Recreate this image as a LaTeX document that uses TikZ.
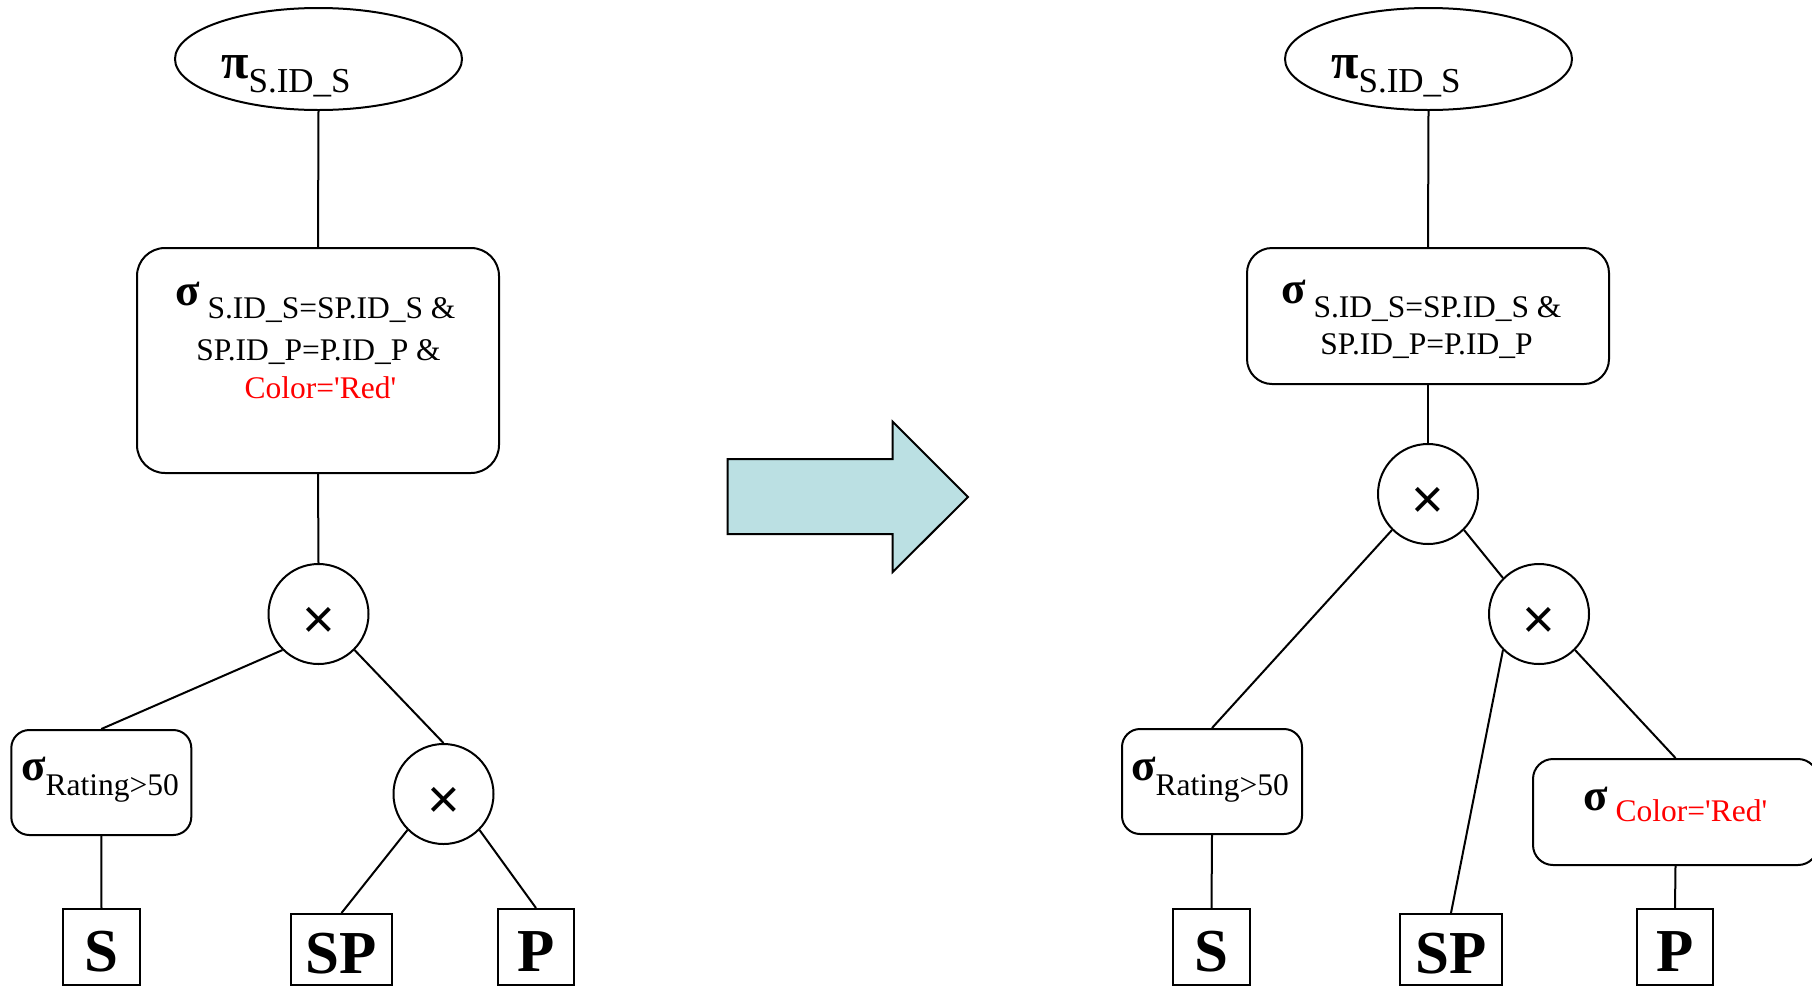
\documentclass[tikz,border=0pt]{standalone}
\usepackage{fontspec}
\setmainfont{Liberation Serif}
\newfontfamily\crossface{Liberation Sans}
\usetikzlibrary{shapes.geometric}

% operator symbols
\newcommand\sigmark{{\fontsize{45}{45}\selectfont\bfseries σ}}
\newcommand\pimark{{\fontsize{50}{50}\selectfont\bfseries π}}
\newcommand\sq{\textquotesingle}

\definecolor{arrowfill}{RGB}{187,224,227}

\tikzset{
  edge/.style={line width=2pt},
  proj/.style={draw, ellipse, line width=2pt, inner sep=0pt},
  sel/.style={draw, rectangle, line width=2pt, inner sep=0pt},
  prod/.style={draw, circle, line width=2pt, minimum size=100pt, inner sep=0pt,
    text height=48pt, text depth=0pt, font=\crossface\fontsize{56}{56}\selectfont},
  rel/.style={draw, rectangle, line width=2pt, inner sep=0pt, text height=48pt,
    text depth=0pt, font=\fontsize{61}{61}\selectfont\bfseries},
  txt/.style={inner sep=0pt},
}

\begin{document}
\begin{tikzpicture}[x=1pt, y=-1pt, font=\fontsize{31.5}{36}\selectfont]
\useasboundingbox (0,0) rectangle (1812,986);
\clip (0,0) rectangle (1812,986);

% ---------------- original query tree ----------------
\node[proj, minimum width=287pt, minimum height=102pt] (Lpi) at (318.5,59) {};
\node[txt, anchor=base west] (Lpitxt) at (221,78)
  {\pimark\raisebox{-14pt}{\fontsize{35}{35}\selectfont S.ID\_S}};

\node[sel, rounded corners=28pt, minimum width=362pt, minimum height=225pt] (Lsel) at (318,360.5) {};
\node[txt, anchor=base west] (Lsel1) at (175,318) {\raisebox{13pt}{\sigmark} S.ID\_S=SP.ID\_S \&};
\node[txt, anchor=base] (Lsel2) at (318.5,360) {SP.ID\_P=P.ID\_P \&};
\node[txt, anchor=base, text=red] (Lsel3) at (320.5,398) {Color=\sq Red\sq};

\node[prod] (Lx1) at (318.5,614) {×};
\node[prod] (Lx2) at (443.5,794) {×};

\node[sel, rounded corners=18pt, minimum width=180pt, minimum height=105pt] (Lrat) at (101.3,782.5) {};
\node[txt, anchor=base west] (Lrattxt) at (21,795) {\raisebox{15pt}{\sigmark}Rating>50};

\node[rel, minimum width=77pt, minimum height=76pt] (LS) at (101.5,947) {S};
\node[rel, minimum width=101pt, minimum height=71pt] (LSP) at (341.5,949.5) {SP};
\node[rel, minimum width=76pt, minimum height=76pt] (LP) at (536,947) {P};

\draw[edge] (Lpi.south) -- (Lsel.north);
\draw[edge] (Lsel.south) -- (Lx1.north);
\draw[edge] (Lx1.225) -- (Lrat.north);
\draw[edge] (Lx1.315) -- (Lx2.north);
\draw[edge] (Lrat.south) -- (LS.north);
\draw[edge] (Lx2.225) -- (LSP.north);
\draw[edge] (Lx2.315) -- (LP.north);

% ---------------- transformation arrow ----------------
\draw[line width=2pt, fill=arrowfill]
  (727.7,459) -- (892.7,459) -- (892.7,421.7) -- (968,497)
  -- (892.7,572) -- (892.7,534) -- (727.7,534) -- cycle;

% ---------------- rewritten query tree ----------------
\node[proj, minimum width=287pt, minimum height=102pt] (Rpi) at (1428.5,59) {};
\node[txt, anchor=base west] (Rpitxt) at (1331,78)
  {\pimark\raisebox{-14pt}{\fontsize{35}{35}\selectfont S.ID\_S}};

\node[sel, rounded corners=25pt, minimum width=362pt, minimum height=136pt] (Rsel) at (1428,316) {};
\node[txt, anchor=base west] (Rsel1) at (1281,317) {\raisebox{14pt}{\sigmark} S.ID\_S=SP.ID\_S \&};
\node[txt, anchor=base] (Rsel2) at (1426.5,354) {SP.ID\_P=P.ID\_P};

\node[prod] (RA) at (1428,494) {×};
\node[prod] (RB) at (1539,614) {×};

\node[sel, rounded corners=18pt, minimum width=180pt, minimum height=105pt] (Rrat) at (1212,781.5) {};
\node[txt, anchor=base west] (Rrattxt) at (1131,795) {\raisebox{15pt}{\sigmark}Rating>50};

\node[sel, rounded corners=20pt, minimum width=285pt, minimum height=106pt] (Rcol) at (1675.5,812) {};
\node[txt, anchor=base west] (Rcoltxt) at (1583,821.7)
  {\raisebox{11pt}{\sigmark} \textcolor{red}{Color=\sq Red\sq}};

\node[rel, minimum width=77pt, minimum height=76pt] (RS) at (1211.5,947) {S};
\node[rel, minimum width=102pt, minimum height=71pt] (RSP) at (1451,949.5) {SP};
\node[rel, minimum width=76pt, minimum height=76pt] (RP) at (1675,947) {P};

\draw[edge] (Rpi.south) -- (Rsel.north);
\draw[edge] (Rsel.south) -- (RA.north);
\draw[edge] (RA.225) -- (Rrat.north);
\draw[edge] (RA.315) -- (RB.135);
\draw[edge] (Rrat.south) -- (RS.north);
\draw[edge] (RB.225) -- (RSP.north);
\draw[edge] (RB.315) -- (Rcol.north);
\draw[edge] (Rcol.south) -- (RP.north);
\end{tikzpicture}
\end{document}
